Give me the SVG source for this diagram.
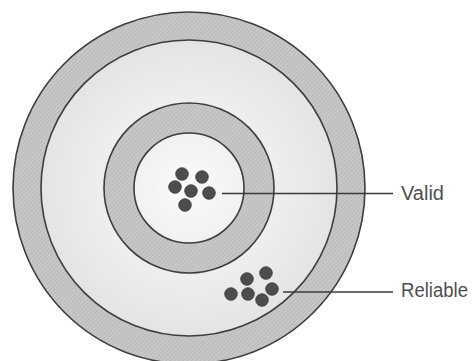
<svg xmlns="http://www.w3.org/2000/svg" width="472" height="361" viewBox="0 0 472 361">
  <defs>
    <pattern id="hatch" width="3" height="3" patternUnits="userSpaceOnUse" patternTransform="rotate(45)">
      <rect width="3" height="3" fill="#c8c8c8"/>
      <line x1="0" y1="0" x2="0" y2="3" stroke="#afafaf" stroke-width="1.2"/>
    </pattern>
    <radialGradient id="light" cx="0.5" cy="0.5" r="0.5">
      <stop offset="0" stop-color="#f7f7f7"/>
      <stop offset="0.6" stop-color="#eeeeee"/>
      <stop offset="1" stop-color="#e4e4e4"/>
    </radialGradient>
    <radialGradient id="core" cx="0.5" cy="0.5" r="0.5">
      <stop offset="0" stop-color="#fbfbfb"/>
      <stop offset="1" stop-color="#f1f1f1"/>
    </radialGradient>
  </defs>
  <style>
    .ring { fill: url(#hatch); stroke: #3d3d3d; stroke-width: 1.6; }
    .edge { stroke: #3d3d3d; stroke-width: 1.6; }
    .dot { fill: #4d4d4d; stroke: #3a3a3a; stroke-width: 0.8; }
    .lead { stroke: #3a3a3a; stroke-width: 1.3; fill: none; }
    .label { font-family: "Liberation Sans", Arial, sans-serif; font-size: 20px; fill: #505050; }
  </style>
  <rect width="472" height="361" fill="#ffffff"/>
  <g id="target">
    <circle class="ring" cx="189" cy="188" r="176"/>
    <circle class="edge" cx="189" cy="188" r="148" fill="url(#light)"/>
    <circle class="ring" cx="189" cy="188" r="85"/>
    <circle class="edge" cx="189" cy="188" r="55" fill="url(#core)"/>
  </g>
  <g id="valid-cluster">
    <circle class="dot" cx="182" cy="174" r="6.3"/>
    <circle class="dot" cx="202" cy="177" r="6.3"/>
    <circle class="dot" cx="175" cy="187" r="6.3"/>
    <circle class="dot" cx="191" cy="191" r="6.3"/>
    <circle class="dot" cx="209" cy="193" r="6.3"/>
    <circle class="dot" cx="185" cy="205" r="6.3"/>
  </g>
  <g id="reliable-cluster">
    <circle class="dot" cx="266" cy="273" r="6.3"/>
    <circle class="dot" cx="247" cy="279" r="6.3"/>
    <circle class="dot" cx="272" cy="289" r="6.3"/>
    <circle class="dot" cx="231" cy="294" r="6.3"/>
    <circle class="dot" cx="248" cy="294" r="6.3"/>
    <circle class="dot" cx="262" cy="300" r="6.3"/>
  </g>
  <g id="connectors">
    <line class="lead" x1="222" y1="193.5" x2="393" y2="193.5"/>
    <line class="lead" x1="283" y1="292" x2="393" y2="292"/>
  </g>
  <g id="label-valid">
    <text class="label" x="401" y="200" textLength="43" lengthAdjust="spacingAndGlyphs">Valid</text>
  </g>
  <g id="label-reliable">
    <text class="label" x="401" y="297" textLength="67" lengthAdjust="spacingAndGlyphs">Reliable</text>
  </g>
</svg>
